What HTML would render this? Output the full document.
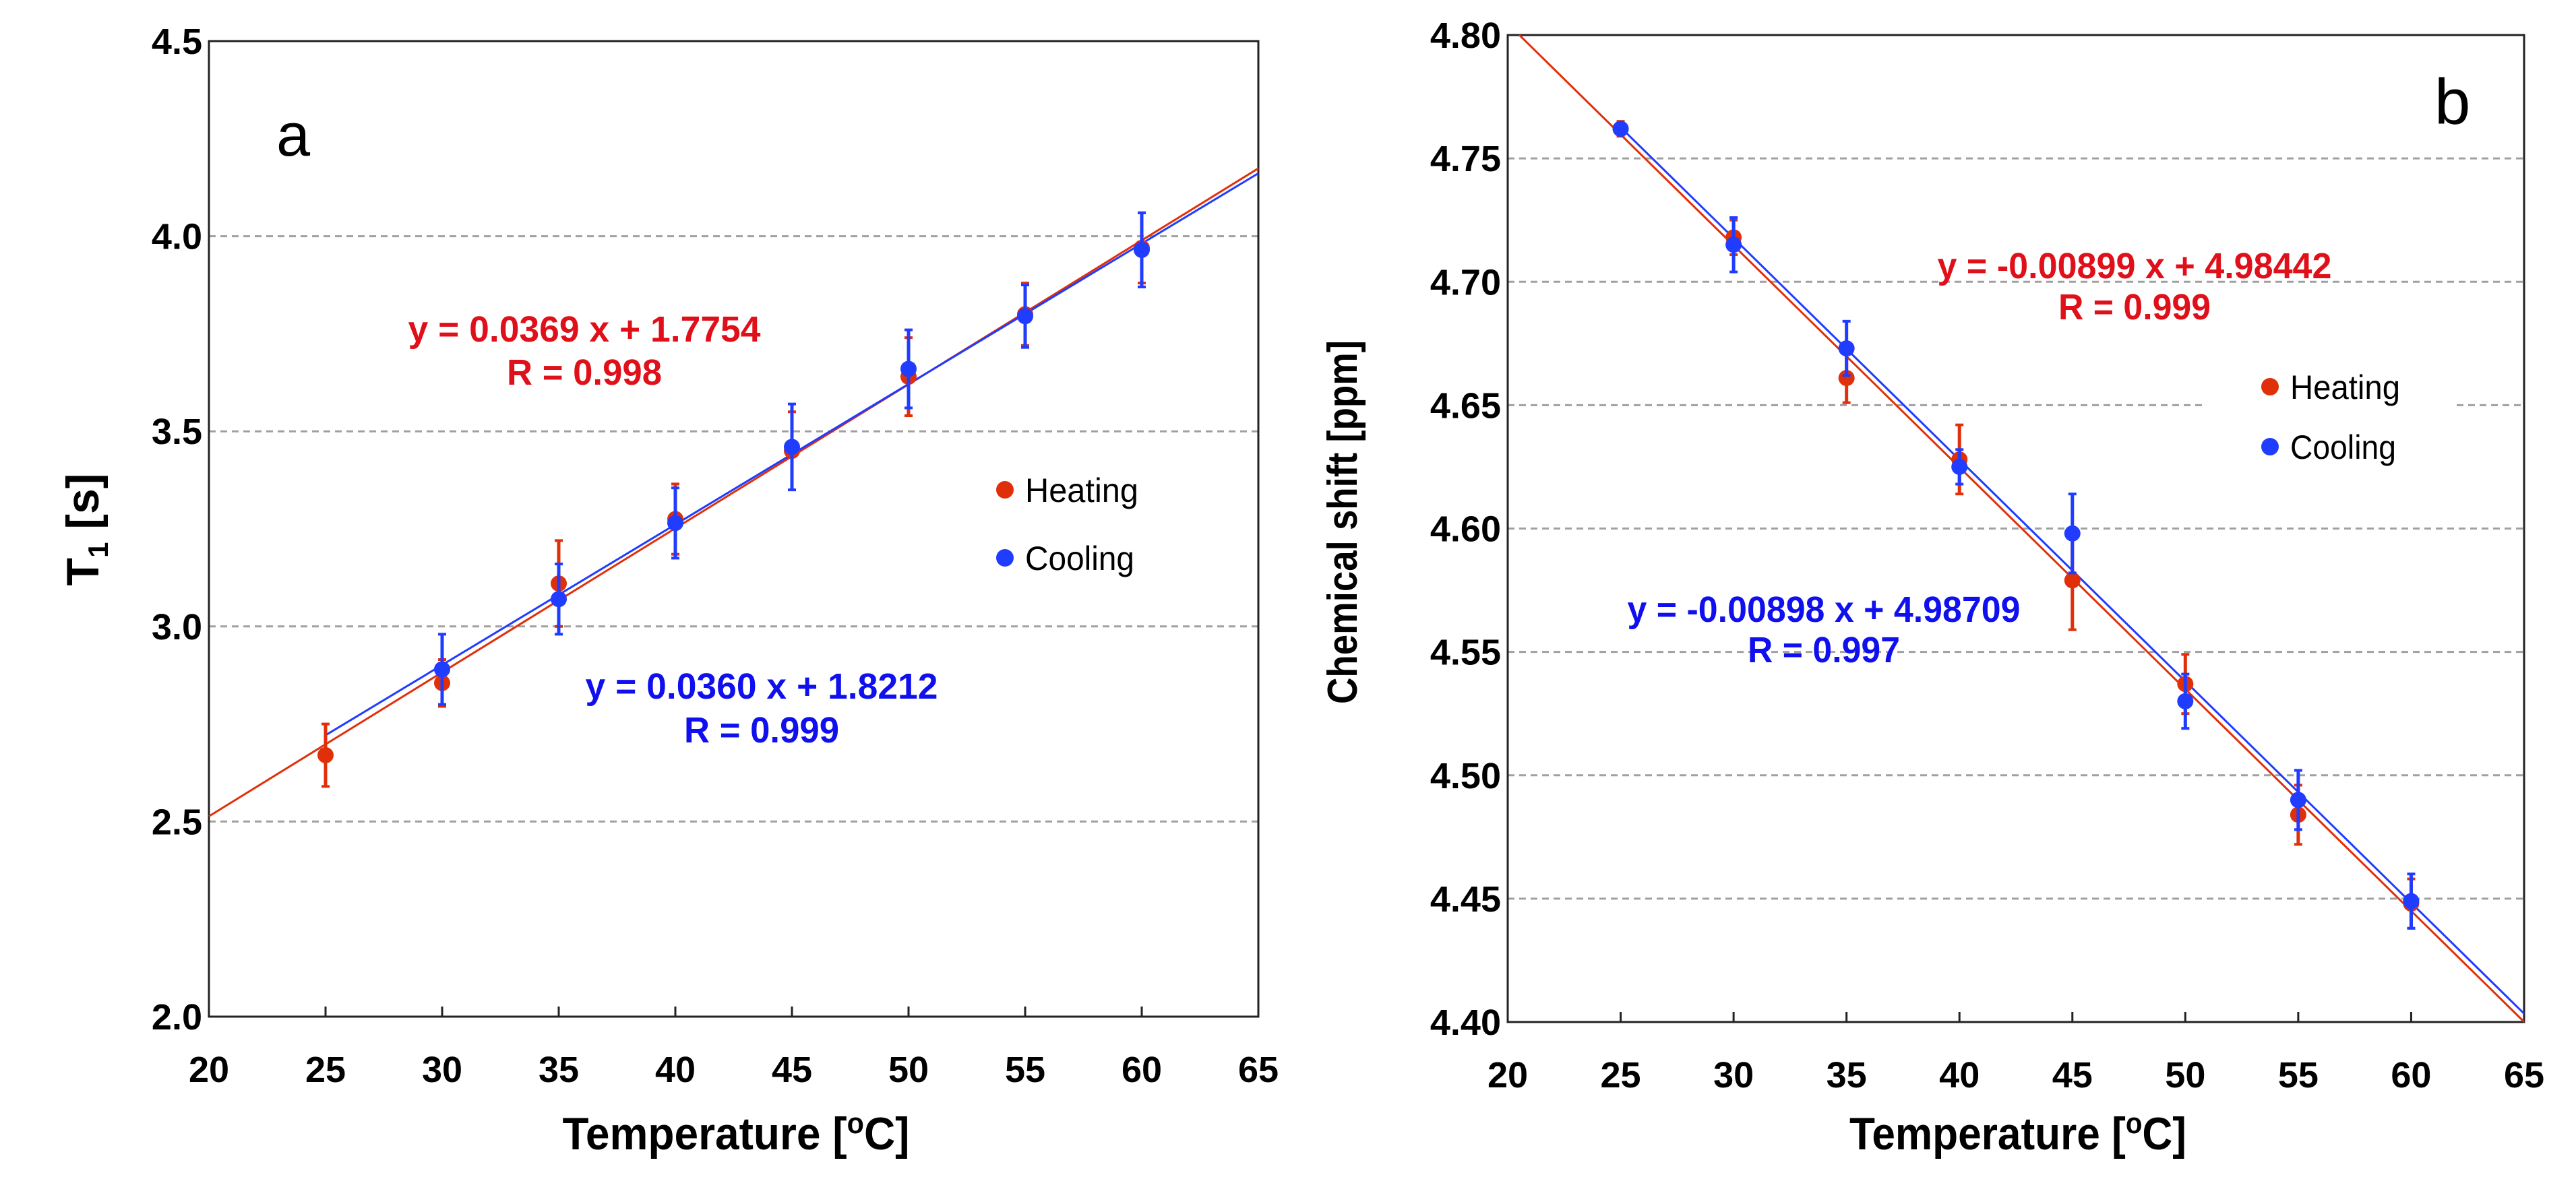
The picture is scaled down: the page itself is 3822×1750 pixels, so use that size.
<!DOCTYPE html>
<html><head><meta charset="utf-8"><style>
html,body{margin:0;padding:0;background:#fff}
svg{display:block}
text{font-family:"Liberation Sans",Arial,sans-serif}
</style></head><body>
<svg id="chart" width="3822" height="1750" viewBox="0 0 3822 1750" xmlns="http://www.w3.org/2000/svg">
<rect width="3822" height="1750" fill="#fff"/>
<g id="pa"></g>
<g id="pb"></g>
</svg>
<script>
const xTicks = [20,25,30,35,40,45,50,55,60,65];
const aYTicks = [2.0,2.5,3.0,3.5,4.0,4.5];
const aYLabels = ["2.0","2.5","3.0","3.5","4.0","4.5"];
const aHeatX = [25,30,35,40,45,50,55,60];
const aHeatY = [2.67,2.855,3.11,3.275,3.45,3.64,3.80,3.97];
const aHeatErr = [0.08,0.06,0.11,0.09,0.1,0.1,0.08,0.09];
const aCoolX = [30,35,40,45,50,55,60];
const aCoolY = [2.89,3.07,3.265,3.46,3.66,3.795,3.965];
const aCoolErr = [0.09,0.09,0.09,0.11,0.1,0.08,0.095];
const aHeatFit = [0.0369,1.7754];
const aCoolFit = [0.0360,1.8212];
const bYTicks = [4.40,4.45,4.50,4.55,4.60,4.65,4.70,4.75,4.80];
const bYLabels = ["4.40","4.45","4.50","4.55","4.60","4.65","4.70","4.75","4.80"];
const bHeatX = [25,30,35,40,45,50,55,60];
const bHeatY = [4.762,4.718,4.661,4.628,4.579,4.537,4.484,4.448];
const bHeatErr = [0.003,0.007,0.01,0.014,0.02,0.012,0.012,0.01];
const bCoolX = [25,30,35,40,45,50,55,60];
const bCoolY = [4.762,4.715,4.673,4.625,4.598,4.530,4.490,4.449];
const bCoolErr = [0.002,0.011,0.011,0.007,0.016,0.011,0.012,0.011];
const bHeatFit = [-0.00899,4.98442];
const bCoolFit = [-0.00898,4.98709];

const NS="http://www.w3.org/2000/svg";
const RED="#e0300a", BLUE="#1f3cff";
function mk(p,tag,at,txt){const e=document.createElementNS(NS,tag);for(const k in at)e.setAttribute(k,at[k]);if(txt!==undefined)e.textContent=txt;p.appendChild(e);return e;}

function panel(g,cfg){
  const X=v=>cfg.L+(v-20)/45*(cfg.R-cfg.L);
  const Y=v=>cfg.B-(v-cfg.y0)/(cfg.y1-cfg.y0)*(cfg.B-cfg.T);
  cfg.yTicks.forEach((t,i)=>{
    if(i===0||i===cfg.yTicks.length-1)return;
    const segs = cfg.gap && Math.abs(t-cfg.gap.v)<1e-9 ? [[cfg.L,cfg.gap.a],[cfg.gap.b,cfg.R]] : [[cfg.L,cfg.R]];
    segs.forEach(s=>{
      const l=mk(g,'line',{x1:s[0],x2:s[1],y1:Y(t),y2:Y(t),stroke:'#a0a0a0','stroke-width':3,'stroke-dasharray':'10 7'});
      
      
    });
  });
  const fr=mk(g,'rect',{x:cfg.L,y:cfg.T,width:cfg.R-cfg.L,height:cfg.B-cfg.T,fill:'none',stroke:'#222','stroke-width':3});
  
  
  xTicks.forEach(t=>{
    if(t>20&&t<65){const tk=mk(g,'line',{x1:X(t),x2:X(t),y1:cfg.B,y2:cfg.B-15,stroke:'#222','stroke-width':3});
      
      }
    const tl=mk(g,'text',{x:X(t),y:cfg.B+97,'text-anchor':'middle','font-size':54,'font-weight':'bold',fill:'#000'},String(t));
    
    
  });
  cfg.yTicks.forEach((t,i)=>{
    const tl=mk(g,'text',{x:cfg.L-10,y:Y(t)+19,'text-anchor':'end','font-size':54,'font-weight':'bold',fill:'#000'},cfg.yLabels[i]);
    
    
  });
  const line=(fit,xa,xb,col,nm)=>{
    const l=mk(g,'line',{x1:X(xa),y1:Y(fit[0]*xa+fit[1]),x2:X(xb),y2:Y(fit[0]*xb+fit[1]),stroke:col,'stroke-width':3});
    
    
  };
  line(cfg.hFit,cfg.hFitStart,65,RED,'heating-fit-line');
  line(cfg.cFit,25,65,BLUE,'cooling-fit-line');
  const pts=(xs,ys,es,col,nm)=>{
    xs.forEach((x,i)=>{
      const e1=mk(g,'line',{x1:X(x),x2:X(x),y1:Y(ys[i]+es[i]),y2:Y(ys[i]-es[i]),stroke:col,'stroke-width':5});
      
      
      [ys[i]+es[i],ys[i]-es[i]].forEach(v=>{
        const c=mk(g,'line',{x1:X(x)-6,x2:X(x)+6,y1:Y(v),y2:Y(v),stroke:col,'stroke-width':4});
        
        
      });
      const d=mk(g,'ellipse',{cx:X(x),cy:Y(ys[i]),rx:12,ry:12,fill:col});
      
      
    });
  };
  pts(cfg.hx,cfg.hy,cfg.he,RED,'heating');
  pts(cfg.cx,cfg.cy,cfg.ce,BLUE,'cooling');
}

const pa=document.getElementById('pa'), pb=document.getElementById('pb');
panel(pa,{L:310,R:1867,T:61,B:1509,y0:2.0,y1:4.5,yTicks:aYTicks,yLabels:aYLabels,
  hFit:aHeatFit,cFit:aCoolFit,hFitStart:20,hx:aHeatX,hy:aHeatY,he:aHeatErr,cx:aCoolX,cy:aCoolY,ce:aCoolErr});
panel(pb,{L:2237,R:3745,T:52,B:1517,y0:4.40,y1:4.80,yTicks:bYTicks,yLabels:bYLabels,
  hFit:bHeatFit,cFit:bCoolFit,hFitStart:(4.80-bHeatFit[1])/bHeatFit[0],hx:bHeatX,hy:bHeatY,he:bHeatErr,cx:bCoolX,cy:bCoolY,ce:bCoolErr,
  gap:{v:4.65,a:3270,b:3645}});
</script>
<svg style="position:absolute;left:0;top:0" width="3822" height="1750" viewBox="0 0 3822 1750" xmlns="http://www.w3.org/2000/svg">
<style>text{font-family:"Liberation Sans",Arial,sans-serif}</style>
<text x="410" y="231" font-size="90" fill="#000">a</text>
<text x="3612" y="184" font-size="96" fill="#000">b</text>
<text x="867" y="507" text-anchor="middle" font-size="54" font-weight="bold" fill="#e0101a" textLength="523" lengthAdjust="spacingAndGlyphs">y = 0.0369 x + 1.7754</text>
<text x="867" y="571" text-anchor="middle" font-size="54" font-weight="bold" fill="#e0101a" textLength="230" lengthAdjust="spacingAndGlyphs">R = 0.998</text>
<text x="1130" y="1037" text-anchor="middle" font-size="54" font-weight="bold" fill="#1010ee" textLength="523" lengthAdjust="spacingAndGlyphs">y = 0.0360 x + 1.8212</text>
<text x="1130" y="1102" text-anchor="middle" font-size="54" font-weight="bold" fill="#1010ee" textLength="230" lengthAdjust="spacingAndGlyphs">R = 0.999</text>
<text x="3167" y="413" text-anchor="middle" font-size="54" font-weight="bold" fill="#e0101a" textLength="585" lengthAdjust="spacingAndGlyphs">y = -0.00899 x + 4.98442</text>
<text x="3167" y="474" text-anchor="middle" font-size="54" font-weight="bold" fill="#e0101a" textLength="226" lengthAdjust="spacingAndGlyphs">R = 0.999</text>
<text x="2706" y="923" text-anchor="middle" font-size="54" font-weight="bold" fill="#1010ee" textLength="583" lengthAdjust="spacingAndGlyphs">y = -0.00898 x + 4.98709</text>
<text x="2706" y="983" text-anchor="middle" font-size="54" font-weight="bold" fill="#1010ee" textLength="226" lengthAdjust="spacingAndGlyphs">R = 0.997</text>
<g>
<circle cx="1491" cy="727" r="13" fill="#e0300a"/>
<text x="1521" y="745" font-size="50" fill="#000" textLength="168" lengthAdjust="spacingAndGlyphs">Heating</text>
<circle cx="1491" cy="828" r="13" fill="#1f3cff"/>
<text x="1521" y="846" font-size="50" fill="#000" textLength="162" lengthAdjust="spacingAndGlyphs">Cooling</text>
</g>
<g>
<circle cx="3368" cy="574" r="13" fill="#e0300a"/>
<text x="3398" y="592" font-size="50" fill="#000" textLength="163" lengthAdjust="spacingAndGlyphs">Heating</text>
<circle cx="3368" cy="663" r="13" fill="#1f3cff"/>
<text x="3398" y="681" font-size="50" fill="#000" textLength="157" lengthAdjust="spacingAndGlyphs">Cooling</text>
</g>
<text x="1092" y="1706" text-anchor="middle" font-size="68" font-weight="bold" fill="#000" textLength="515" lengthAdjust="spacingAndGlyphs">Temperature [<tspan font-size="44" dy="-24">o</tspan><tspan dy="24">C]</tspan></text>
<text x="2994" y="1706" text-anchor="middle" font-size="68" font-weight="bold" fill="#000" textLength="500" lengthAdjust="spacingAndGlyphs">Temperature [<tspan font-size="44" dy="-24">o</tspan><tspan dy="24">C]</tspan></text>
<text transform="translate(146,786) rotate(-90)" text-anchor="middle" font-size="68" font-weight="bold" fill="#000">T<tspan font-size="42" dy="14">1</tspan><tspan dy="-14"> [s]</tspan></text>
<text transform="translate(2013,775) rotate(-90)" text-anchor="middle" font-size="62" font-weight="bold" fill="#000" textLength="540" lengthAdjust="spacingAndGlyphs">Chemical shift [ppm]</text>
</svg>
</body></html>
